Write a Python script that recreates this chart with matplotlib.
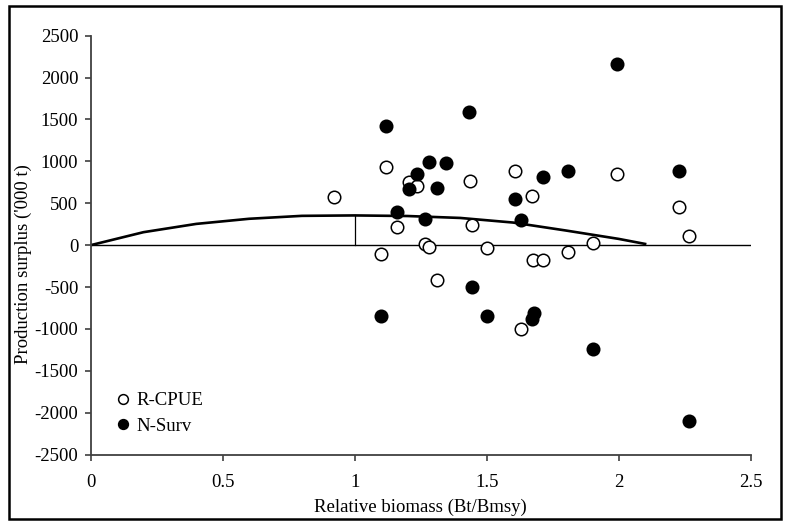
import matplotlib.pyplot as plt
from matplotlib.patches import Rectangle

plt.rcParams['font.family'] = ['Liberation Serif', 'DejaVu Serif']
plt.rcParams['axes.unicode_minus'] = False

# R-CPUE (open circles)
rcpue_x = [0.923, 1.119, 1.162, 1.098, 1.207, 1.237, 1.437, 1.444, 1.266, 1.281, 1.502,
           1.312, 1.608, 1.992, 1.673, 1.902, 1.807, 1.677, 1.712, 1.629, 2.227, 2.266]
rcpue_y = [571, 929, 217, -111, 755, 711, 762, 235, 20, -19, -35,
           -420, 889, 853, 592, 28, -83, -178, -178, -995, 457, 107]

# N-Surv (filled circles)
nsurv_x = [1.119, 1.434, 1.280, 1.346, 1.235, 1.207, 1.311, 1.162, 1.266, 1.712, 1.807,
           1.608, 1.629, 1.994, 2.227, 1.446, 1.502, 1.679, 1.673, 1.902, 2.266, 1.100]
nsurv_y = [1427, 1595, 996, 981, 854, 671, 679, 395, 314, 818, 889,
           548, 298, 2163, 881, -500, -845, -813, -885, -1242, -2102, -845]

# production curve
curve_x = [0, 0.2, 0.4, 0.6, 0.8, 1.0, 1.2, 1.4, 1.6, 1.8, 2.0, 2.1]
curve_y = [0, 155, 254, 315, 350, 355, 348, 325, 270, 175, 75, 15]

msy_x = 1.0
msy_y = 355

xticks = [0, 0.5, 1, 1.5, 2, 2.5]
xticklabels = ['0', '0.5', '1', '1.5', '2', '2.5']
yticks = list(range(-2500, 2501, 500))

fs = 13.5

fig = plt.figure(figsize=(7.85, 5.24), dpi=100)
ax = fig.add_axes([0.1155, 0.1323, 0.8408, 0.7996])

ax.axhline(0, color='black', lw=1.0, zorder=1)
ax.plot([msy_x, msy_x], [0, msy_y], color='black', lw=0.9, zorder=1)
ax.plot(curve_x, curve_y, color='black', lw=1.9, zorder=2)

ax.plot(rcpue_x, rcpue_y, 'o', ls='none', ms=9, mfc='white', mec='black', mew=1.1,
        label='R-CPUE', zorder=3)
ax.plot(nsurv_x, nsurv_y, 'o', ls='none', ms=9, mfc='black', mec='black', mew=1.1,
        label='N-Surv', zorder=4)

ax.set_xlim(0, 2.5)
ax.set_ylim(-2500, 2500)
ax.set_xticks(xticks)
ax.set_xticklabels(xticklabels)
ax.set_yticks(yticks)

for s in ['top', 'right']:
    ax.spines[s].set_visible(False)
for s in ['left', 'bottom']:
    ax.spines[s].set_color('#404040')
    ax.spines[s].set_linewidth(1.3)

ax.tick_params(axis='both', direction='out', length=4, width=1.2, color='#404040',
               labelsize=fs)
ax.tick_params(axis='y', pad=5)
ax.tick_params(axis='x', pad=10)

ax.set_xlabel('Relative biomass (Bt/Bmsy)', fontsize=fs)
ax.xaxis.set_label_coords(0.499, -0.105)
ax.set_ylabel("Production surplus ('000 t)", fontsize=fs)
ax.yaxis.set_label_coords(-0.089, 0.454)

ax.legend(loc='lower left', bbox_to_anchor=(0.038, 0.047), frameon=False,
          fontsize=fs, markerscale=0.78, handlelength=0.8, handletextpad=0.3,
          borderaxespad=0, borderpad=0, labelspacing=0.45)

fig.patches.append(Rectangle((9 / 785, 5 / 524), 772 / 785, 513 / 524,
                             transform=fig.transFigure, fill=False,
                             edgecolor='black', lw=1.8))

fig.savefig('out.png', dpi=100)
